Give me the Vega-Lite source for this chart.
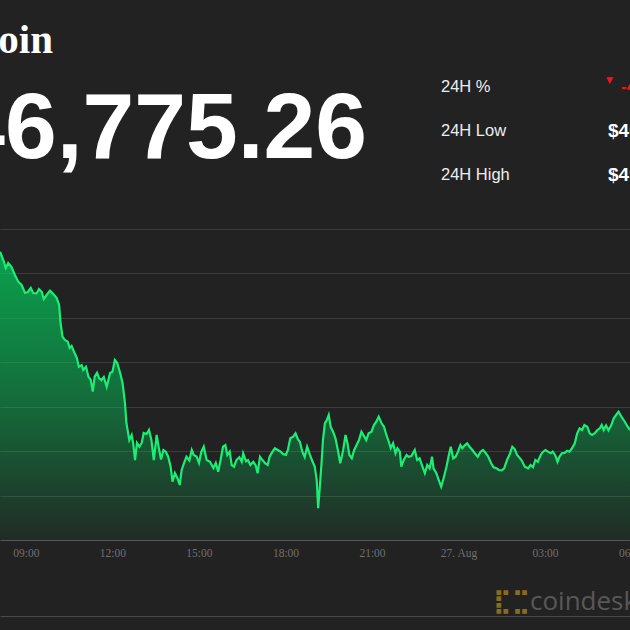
{
  "$schema": "https://vega.github.io/schema/vega-lite/v6.json",
  "width": 630,
  "height": 616,
  "autosize": {"type": "none"},
  "padding": {"left": 0, "top": 0, "right": 0, "bottom": 14},
  "background": "#222222",
  "config": {"view": {"stroke": null}},
  "datasets": {
    "btc": [
      {"t":"2021-08-26T08:06","p":49245},{"t":"2021-08-26T08:13","p":49151},{"t":"2021-08-26T08:18","p":49061},{"t":"2021-08-26T08:23","p":49117},{"t":"2021-08-26T08:30","p":49072},{"t":"2021-08-26T08:37","p":48982},{"t":"2021-08-26T08:44","p":48907},{"t":"2021-08-26T08:51","p":48870},{"t":"2021-08-26T08:58","p":48780},{"t":"2021-08-26T09:04","p":48791},{"t":"2021-08-26T09:10","p":48836},{"t":"2021-08-26T09:15","p":48780},{"t":"2021-08-26T09:22","p":48775},{"t":"2021-08-26T09:27","p":48825},{"t":"2021-08-26T09:33","p":48791},{"t":"2021-08-26T09:37","p":48712},{"t":"2021-08-26T09:43","p":48757},{"t":"2021-08-26T09:50","p":48806},{"t":"2021-08-26T09:57","p":48768},{"t":"2021-08-26T10:04","p":48723},{"t":"2021-08-26T10:09","p":48645},{"t":"2021-08-26T10:12","p":48442},{"t":"2021-08-26T10:16","p":48288},{"t":"2021-08-26T10:21","p":48251},{"t":"2021-08-26T10:27","p":48232},{"t":"2021-08-26T10:31","p":48161},{"t":"2021-08-26T10:35","p":48183},{"t":"2021-08-26T10:40","p":48119},{"t":"2021-08-26T10:46","p":48048},{"t":"2021-08-26T10:50","p":47950},{"t":"2021-08-26T10:56","p":47969},{"t":"2021-08-26T10:59","p":47913},{"t":"2021-08-26T11:05","p":47950},{"t":"2021-08-26T11:10","p":47838},{"t":"2021-08-26T11:15","p":47801},{"t":"2021-08-26T11:19","p":47669},{"t":"2021-08-26T11:23","p":47838},{"t":"2021-08-26T11:28","p":47883},{"t":"2021-08-26T11:32","p":47823},{"t":"2021-08-26T11:37","p":47800},{"t":"2021-08-26T11:42","p":47834},{"t":"2021-08-26T11:48","p":47725},{"t":"2021-08-26T11:55","p":47879},{"t":"2021-08-26T12:00","p":47894},{"t":"2021-08-26T12:05","p":48026},{"t":"2021-08-26T12:10","p":47992},{"t":"2021-08-26T12:16","p":47879},{"t":"2021-08-26T12:21","p":47767},{"t":"2021-08-26T12:26","p":47542},{"t":"2021-08-26T12:29","p":47317},{"t":"2021-08-26T12:35","p":47125},{"t":"2021-08-26T12:40","p":47182},{"t":"2021-08-26T12:43","p":47092},{"t":"2021-08-26T12:47","p":46900},{"t":"2021-08-26T12:51","p":47092},{"t":"2021-08-26T12:56","p":47050},{"t":"2021-08-26T13:01","p":47095},{"t":"2021-08-26T13:05","p":47204},{"t":"2021-08-26T13:11","p":47193},{"t":"2021-08-26T13:16","p":47238},{"t":"2021-08-26T13:21","p":47125},{"t":"2021-08-26T13:26","p":46900},{"t":"2021-08-26T13:32","p":47182},{"t":"2021-08-26T13:36","p":47050},{"t":"2021-08-26T13:41","p":46905},{"t":"2021-08-26T13:46","p":47013},{"t":"2021-08-26T13:51","p":46994},{"t":"2021-08-26T13:56","p":46937},{"t":"2021-08-26T14:01","p":46825},{"t":"2021-08-26T14:05","p":46656},{"t":"2021-08-26T14:10","p":46754},{"t":"2021-08-26T14:15","p":46698},{"t":"2021-08-26T14:20","p":46619},{"t":"2021-08-26T14:24","p":46788},{"t":"2021-08-26T14:29","p":46867},{"t":"2021-08-26T14:34","p":46937},{"t":"2021-08-26T14:40","p":46895},{"t":"2021-08-26T14:45","p":47013},{"t":"2021-08-26T14:49","p":46957},{"t":"2021-08-26T14:55","p":46940},{"t":"2021-08-26T15:00","p":46867},{"t":"2021-08-26T15:05","p":46994},{"t":"2021-08-26T15:10","p":47050},{"t":"2021-08-26T15:16","p":46900},{"t":"2021-08-26T15:23","p":46881},{"t":"2021-08-26T15:30","p":46810},{"t":"2021-08-26T15:35","p":46867},{"t":"2021-08-26T15:40","p":46769},{"t":"2021-08-26T15:45","p":46900},{"t":"2021-08-26T15:50","p":47050},{"t":"2021-08-26T15:55","p":47069},{"t":"2021-08-26T15:59","p":46957},{"t":"2021-08-26T16:04","p":46994},{"t":"2021-08-26T16:08","p":46844},{"t":"2021-08-26T16:13","p":46825},{"t":"2021-08-26T16:18","p":46900},{"t":"2021-08-26T16:24","p":46931},{"t":"2021-08-26T16:29","p":46881},{"t":"2021-08-26T16:32","p":46976},{"t":"2021-08-26T16:38","p":46885},{"t":"2021-08-26T16:42","p":46900},{"t":"2021-08-26T16:47","p":46844},{"t":"2021-08-26T16:53","p":46881},{"t":"2021-08-26T16:58","p":46840},{"t":"2021-08-26T17:02","p":46751},{"t":"2021-08-26T17:07","p":46937},{"t":"2021-08-26T17:12","p":46900},{"t":"2021-08-26T17:18","p":46863},{"t":"2021-08-26T17:23","p":46844},{"t":"2021-08-26T17:27","p":46937},{"t":"2021-08-26T17:33","p":46994},{"t":"2021-08-26T17:38","p":47032},{"t":"2021-08-26T17:44","p":47013},{"t":"2021-08-26T17:50","p":46994},{"t":"2021-08-26T17:55","p":46968},{"t":"2021-08-26T18:01","p":46957},{"t":"2021-08-26T18:05","p":47013},{"t":"2021-08-26T18:10","p":47145},{"t":"2021-08-26T18:16","p":47163},{"t":"2021-08-26T18:21","p":47201},{"t":"2021-08-26T18:26","p":47133},{"t":"2021-08-26T18:30","p":47106},{"t":"2021-08-26T18:35","p":46994},{"t":"2021-08-26T18:40","p":46934},{"t":"2021-08-26T18:45","p":47050},{"t":"2021-08-26T18:51","p":46957},{"t":"2021-08-26T18:55","p":46900},{"t":"2021-08-26T19:01","p":46825},{"t":"2021-08-26T19:05","p":46675},{"t":"2021-08-26T19:08","p":46357},{"t":"2021-08-26T19:11","p":46563},{"t":"2021-08-26T19:15","p":46863},{"t":"2021-08-26T19:18","p":47125},{"t":"2021-08-26T19:22","p":47313},{"t":"2021-08-26T19:26","p":47350},{"t":"2021-08-26T19:30","p":47407},{"t":"2021-08-26T19:34","p":47275},{"t":"2021-08-26T19:39","p":47219},{"t":"2021-08-26T19:44","p":47145},{"t":"2021-08-26T19:49","p":47013},{"t":"2021-08-26T19:54","p":46863},{"t":"2021-08-26T20:00","p":47013},{"t":"2021-08-26T20:05","p":47182},{"t":"2021-08-26T20:09","p":47088},{"t":"2021-08-26T20:13","p":46957},{"t":"2021-08-26T20:18","p":46919},{"t":"2021-08-26T20:23","p":47013},{"t":"2021-08-26T20:28","p":47069},{"t":"2021-08-26T20:33","p":47125},{"t":"2021-08-26T20:38","p":47219},{"t":"2021-08-26T20:44","p":47163},{"t":"2021-08-26T20:48","p":47125},{"t":"2021-08-26T20:53","p":47201},{"t":"2021-08-26T20:59","p":47219},{"t":"2021-08-26T21:04","p":47294},{"t":"2021-08-26T21:09","p":47331},{"t":"2021-08-26T21:14","p":47388},{"t":"2021-08-26T21:20","p":47313},{"t":"2021-08-26T21:25","p":47275},{"t":"2021-08-26T21:30","p":47182},{"t":"2021-08-26T21:35","p":47106},{"t":"2021-08-26T21:39","p":47032},{"t":"2021-08-26T21:44","p":47088},{"t":"2021-08-26T21:49","p":46976},{"t":"2021-08-26T21:53","p":47032},{"t":"2021-08-26T21:58","p":46994},{"t":"2021-08-26T22:01","p":46825},{"t":"2021-08-26T22:06","p":46900},{"t":"2021-08-26T22:12","p":46957},{"t":"2021-08-26T22:16","p":46937},{"t":"2021-08-26T22:22","p":46945},{"t":"2021-08-26T22:29","p":47013},{"t":"2021-08-26T22:34","p":46900},{"t":"2021-08-26T22:39","p":46919},{"t":"2021-08-26T22:45","p":46825},{"t":"2021-08-26T22:50","p":46751},{"t":"2021-08-26T22:55","p":46844},{"t":"2021-08-26T23:00","p":46807},{"t":"2021-08-26T23:05","p":46937},{"t":"2021-08-26T23:08","p":46807},{"t":"2021-08-26T23:14","p":46751},{"t":"2021-08-26T23:19","p":46675},{"t":"2021-08-26T23:24","p":46600},{"t":"2021-08-26T23:29","p":46694},{"t":"2021-08-26T23:35","p":46825},{"t":"2021-08-26T23:40","p":46957},{"t":"2021-08-26T23:44","p":47050},{"t":"2021-08-26T23:49","p":46919},{"t":"2021-08-26T23:54","p":46937},{"t":"2021-08-26T23:59","p":46994},{"t":"2021-08-27T00:04","p":47069},{"t":"2021-08-27T00:08","p":47032},{"t":"2021-08-27T00:13","p":47065},{"t":"2021-08-27T00:18","p":47088},{"t":"2021-08-27T00:23","p":47050},{"t":"2021-08-27T00:29","p":47013},{"t":"2021-08-27T00:34","p":46976},{"t":"2021-08-27T00:40","p":46937},{"t":"2021-08-27T00:46","p":46994},{"t":"2021-08-27T00:51","p":47013},{"t":"2021-08-27T00:57","p":46976},{"t":"2021-08-27T01:02","p":46937},{"t":"2021-08-27T01:08","p":46863},{"t":"2021-08-27T01:13","p":46818},{"t":"2021-08-27T01:19","p":46807},{"t":"2021-08-27T01:24","p":46788},{"t":"2021-08-27T01:30","p":46785},{"t":"2021-08-27T01:35","p":46807},{"t":"2021-08-27T01:41","p":46900},{"t":"2021-08-27T01:46","p":46957},{"t":"2021-08-27T01:52","p":47050},{"t":"2021-08-27T01:57","p":47024},{"t":"2021-08-27T02:02","p":46957},{"t":"2021-08-27T02:11","p":46900},{"t":"2021-08-27T02:18","p":46825},{"t":"2021-08-27T02:25","p":46807},{"t":"2021-08-27T02:30","p":46844},{"t":"2021-08-27T02:35","p":46818},{"t":"2021-08-27T02:40","p":46900},{"t":"2021-08-27T02:45","p":46881},{"t":"2021-08-27T02:51","p":46957},{"t":"2021-08-27T02:56","p":46994},{"t":"2021-08-27T03:01","p":47013},{"t":"2021-08-27T03:06","p":46994},{"t":"2021-08-27T03:12","p":46976},{"t":"2021-08-27T03:16","p":46994},{"t":"2021-08-27T03:21","p":46957},{"t":"2021-08-27T03:26","p":46881},{"t":"2021-08-27T03:30","p":46937},{"t":"2021-08-27T03:35","p":46976},{"t":"2021-08-27T03:41","p":46980},{"t":"2021-08-27T03:46","p":47005},{"t":"2021-08-27T03:51","p":46994},{"t":"2021-08-27T03:56","p":47032},{"t":"2021-08-27T04:02","p":47088},{"t":"2021-08-27T04:07","p":47201},{"t":"2021-08-27T04:12","p":47257},{"t":"2021-08-27T04:17","p":47238},{"t":"2021-08-27T04:22","p":47294},{"t":"2021-08-27T04:28","p":47275},{"t":"2021-08-27T04:33","p":47201},{"t":"2021-08-27T04:38","p":47182},{"t":"2021-08-27T04:43","p":47200},{"t":"2021-08-27T04:49","p":47238},{"t":"2021-08-27T04:54","p":47257},{"t":"2021-08-27T04:58","p":47294},{"t":"2021-08-27T05:02","p":47238},{"t":"2021-08-27T05:07","p":47290},{"t":"2021-08-27T05:12","p":47235},{"t":"2021-08-27T05:18","p":47294},{"t":"2021-08-27T05:23","p":47370},{"t":"2021-08-27T05:28","p":47407},{"t":"2021-08-27T05:33","p":47444},{"t":"2021-08-27T05:39","p":47388},{"t":"2021-08-27T05:46","p":47331},{"t":"2021-08-27T05:52","p":47275},{"t":"2021-08-27T05:57","p":47238}
    ],
    "header": [{"part": "name", "text": "Bitcoin"}, {"part": "price", "text": "$46,775.26"}],
    "stats": [{"stat": "24H %", "value": "-4.47%"}, {"stat": "24H Low", "value": "$46,367.97"}, {"stat": "24H High", "value": "$49,257.13"}],
    "brand": [{"part": "logo", "text": "⣏⣉"}, {"part": "word", "text": "coindesk"}]
  },
  "layer": [
    {
      "data": {"name": "btc"},
      "mark": {
        "type": "area",
        "color": {
          "gradient": "linear", "x1": 0, "y1": 0, "x2": 0, "y2": 1,
          "stops": [
            {"offset": 0, "color": "rgba(0,215,95,1)"},
            {"offset": 0.5, "color": "rgba(0,215,95,0.6)"},
            {"offset": 1, "color": "rgba(0,215,95,0.08)"}
          ]
        },
        "line": {"color": "#1aee74", "strokeWidth": 2.2}
      },
      "encoding": {
        "x": {
          "field": "t", "type": "temporal",
          "scale": {"domain": [{"year": 2021, "month": 8, "date": 26, "hours": 8, "minutes": 6}, {"year": 2021, "month": 8, "date": 27, "hours": 6, "minutes": 10}], "range": [0, 636.3]},
          "axis": {
            "orient": "bottom", "title": null, "grid": false, "ticks": false,
            "domain": true, "domainColor": "#4a4a4a", "domainWidth": 1,
            "values": [
              {"year": 2021, "month": 8, "date": 26, "hours": 9},
              {"year": 2021, "month": 8, "date": 26, "hours": 12},
              {"year": 2021, "month": 8, "date": 26, "hours": 15},
              {"year": 2021, "month": 8, "date": 26, "hours": 18},
              {"year": 2021, "month": 8, "date": 26, "hours": 21},
              {"year": 2021, "month": 8, "date": 27, "hours": 0},
              {"year": 2021, "month": 8, "date": 27, "hours": 3},
              {"year": 2021, "month": 8, "date": 27, "hours": 6}
            ],
            "labelExpr": "hours(datum.value) === 0 ? timeFormat(datum.value, '%d. %b') : timeFormat(datum.value, '%H:%M')",
            "labelFont": "Liberation Serif", "labelFontSize": 11.5, "labelColor": "#707070",
            "labelBaseline": "middle", "labelPadding": -63,
            "labelFlush": false, "labelOverlap": false, "labelBound": false
          }
        },
        "y": {
          "field": "p", "type": "quantitative",
          "scale": {"domain": [46000, 49500], "range": [540, 229], "zero": false, "nice": false},
          "axis": {
            "title": null, "labels": false, "ticks": false, "domain": false,
            "values": [46000, 46500, 47000, 47500, 48000, 48500, 49000, 49500],
            "grid": true, "gridWidth": 1,
            "gridColor": {"condition": {"test": "datum.value === 46000", "value": "#555555"}, "value": "#3c3c3c"}
          }
        },
        "y2": {"datum": 46000}
      }
    },
    {
      "data": {"name": "header"},
      "transform": [{"filter": "datum.part === 'name'"}],
      "mark": {"type": "text", "font": "Liberation Serif", "fontWeight": "bold", "fontSize": 41, "color": "#ffffff", "align": "right", "baseline": "alphabetic"},
      "encoding": {
        "x": {"field": "part", "type": "nominal", "scale": {"type": "point", "domain": ["name", "price"], "range": [53, 367], "padding": 0}, "axis": null},
        "y": {"field": "part", "type": "nominal", "scale": {"type": "point", "domain": ["name", "price"], "range": [53, 158], "padding": 0}, "axis": null},
        "text": {"field": "text"}
      }
    },
    {
      "data": {"name": "header"},
      "transform": [{"filter": "datum.part === 'price'"}],
      "mark": {"type": "text", "font": "Liberation Sans", "fontWeight": "bold", "fontSize": 93, "color": "#ffffff", "align": "right", "baseline": "alphabetic"},
      "encoding": {
        "x": {"field": "part", "type": "nominal", "scale": {"type": "point", "domain": ["name", "price"], "range": [53, 367], "padding": 0}, "axis": null},
        "y": {"field": "part", "type": "nominal", "scale": {"type": "point", "domain": ["name", "price"], "range": [53, 158], "padding": 0}, "axis": null},
        "text": {"field": "text"}
      }
    },
    {
      "data": {"name": "stats"},
      "transform": [{"fold": ["stat", "value"], "as": ["col", "txt"]}, {"filter": "datum.col === 'stat'"}],
      "mark": {"type": "text", "font": "Liberation Sans", "fontSize": 16.5, "color": "#eeeeee", "align": "left", "baseline": "middle"},
      "encoding": {
        "x": {"field": "col", "type": "nominal", "scale": {"type": "point", "domain": ["stat", "value"], "range": [441, 608], "padding": 0}, "axis": null},
        "y": {"field": "stat", "type": "nominal", "scale": {"type": "point", "domain": ["24H %", "24H Low", "24H High"], "range": [86.5, 175], "padding": 0}, "axis": null},
        "text": {"field": "txt"}
      }
    },
    {
      "data": {"name": "stats"},
      "transform": [{"fold": ["stat", "value"], "as": ["col", "txt"]}, {"filter": "datum.col === 'value' && datum.stat !== '24H %'"}],
      "mark": {"type": "text", "font": "Liberation Sans", "fontWeight": "bold", "fontSize": 19, "color": "#ffffff", "align": "left", "baseline": "middle"},
      "encoding": {
        "x": {"field": "col", "type": "nominal", "scale": {"type": "point", "domain": ["stat", "value"], "range": [441, 608], "padding": 0}, "axis": null},
        "y": {"field": "stat", "type": "nominal", "scale": {"type": "point", "domain": ["24H %", "24H Low", "24H High"], "range": [86.5, 175], "padding": 0}, "axis": null},
        "text": {"field": "txt"}
      }
    },
    {
      "data": {"name": "stats"},
      "transform": [{"fold": ["stat", "value"], "as": ["col", "txt"]}, {"filter": "datum.col === 'value' && datum.stat === '24H %'"}],
      "mark": {"type": "text", "font": "Liberation Sans", "fontWeight": "bold", "fontSize": 17, "color": "#ff1010", "align": "left", "baseline": "middle", "dx": 13},
      "encoding": {
        "x": {"field": "col", "type": "nominal", "scale": {"type": "point", "domain": ["stat", "value"], "range": [441, 608], "padding": 0}, "axis": null},
        "y": {"field": "stat", "type": "nominal", "scale": {"type": "point", "domain": ["24H %", "24H Low", "24H High"], "range": [86.5, 175], "padding": 0}, "axis": null},
        "text": {"field": "txt"}
      }
    },
    {
      "data": {"name": "stats"},
      "transform": [{"fold": ["stat", "value"], "as": ["col", "txt"]}, {"filter": "datum.col === 'value' && datum.stat === '24H %'"}],
      "mark": {"type": "text", "font": "DejaVu Sans", "fontSize": 9, "color": "#ff1010", "align": "left", "baseline": "middle", "dx": -2, "dy": -7},
      "encoding": {
        "x": {"field": "col", "type": "nominal", "scale": {"type": "point", "domain": ["stat", "value"], "range": [441, 608], "padding": 0}, "axis": null},
        "y": {"field": "stat", "type": "nominal", "scale": {"type": "point", "domain": ["24H %", "24H Low", "24H High"], "range": [86.5, 175], "padding": 0}, "axis": null},
        "text": {"value": "▼"}
      }
    },
    {
      "data": {"name": "brand"},
      "transform": [{"filter": "datum.part === 'logo'"}],
      "mark": {"type": "text", "font": "DejaVu Sans", "fontWeight": "bold", "fontSize": 24, "color": "#8a6c1c", "align": "left", "baseline": "middle"},
      "encoding": {
        "x": {"field": "part", "type": "nominal", "scale": {"type": "point", "domain": ["logo", "word"], "range": [493, 530], "padding": 0}, "axis": null},
        "y": {"field": "part", "type": "nominal", "scale": {"type": "point", "domain": ["logo", "word"], "range": [602, 610], "padding": 0}, "axis": null},
        "text": {"field": "text"}
      }
    },
    {
      "data": {"name": "brand"},
      "transform": [{"filter": "datum.part === 'word'"}],
      "mark": {"type": "text", "font": "Open Sans", "fontSize": 26, "color": "#585858", "align": "left", "baseline": "alphabetic"},
      "encoding": {
        "x": {"field": "part", "type": "nominal", "scale": {"type": "point", "domain": ["logo", "word"], "range": [493, 530], "padding": 0}, "axis": null},
        "y": {"field": "part", "type": "nominal", "scale": {"type": "point", "domain": ["logo", "word"], "range": [602, 610], "padding": 0}, "axis": null},
        "text": {"field": "text"}
      }
    }
  ],
  "resolve": {"scale": {"x": "independent", "y": "independent"}}
}
